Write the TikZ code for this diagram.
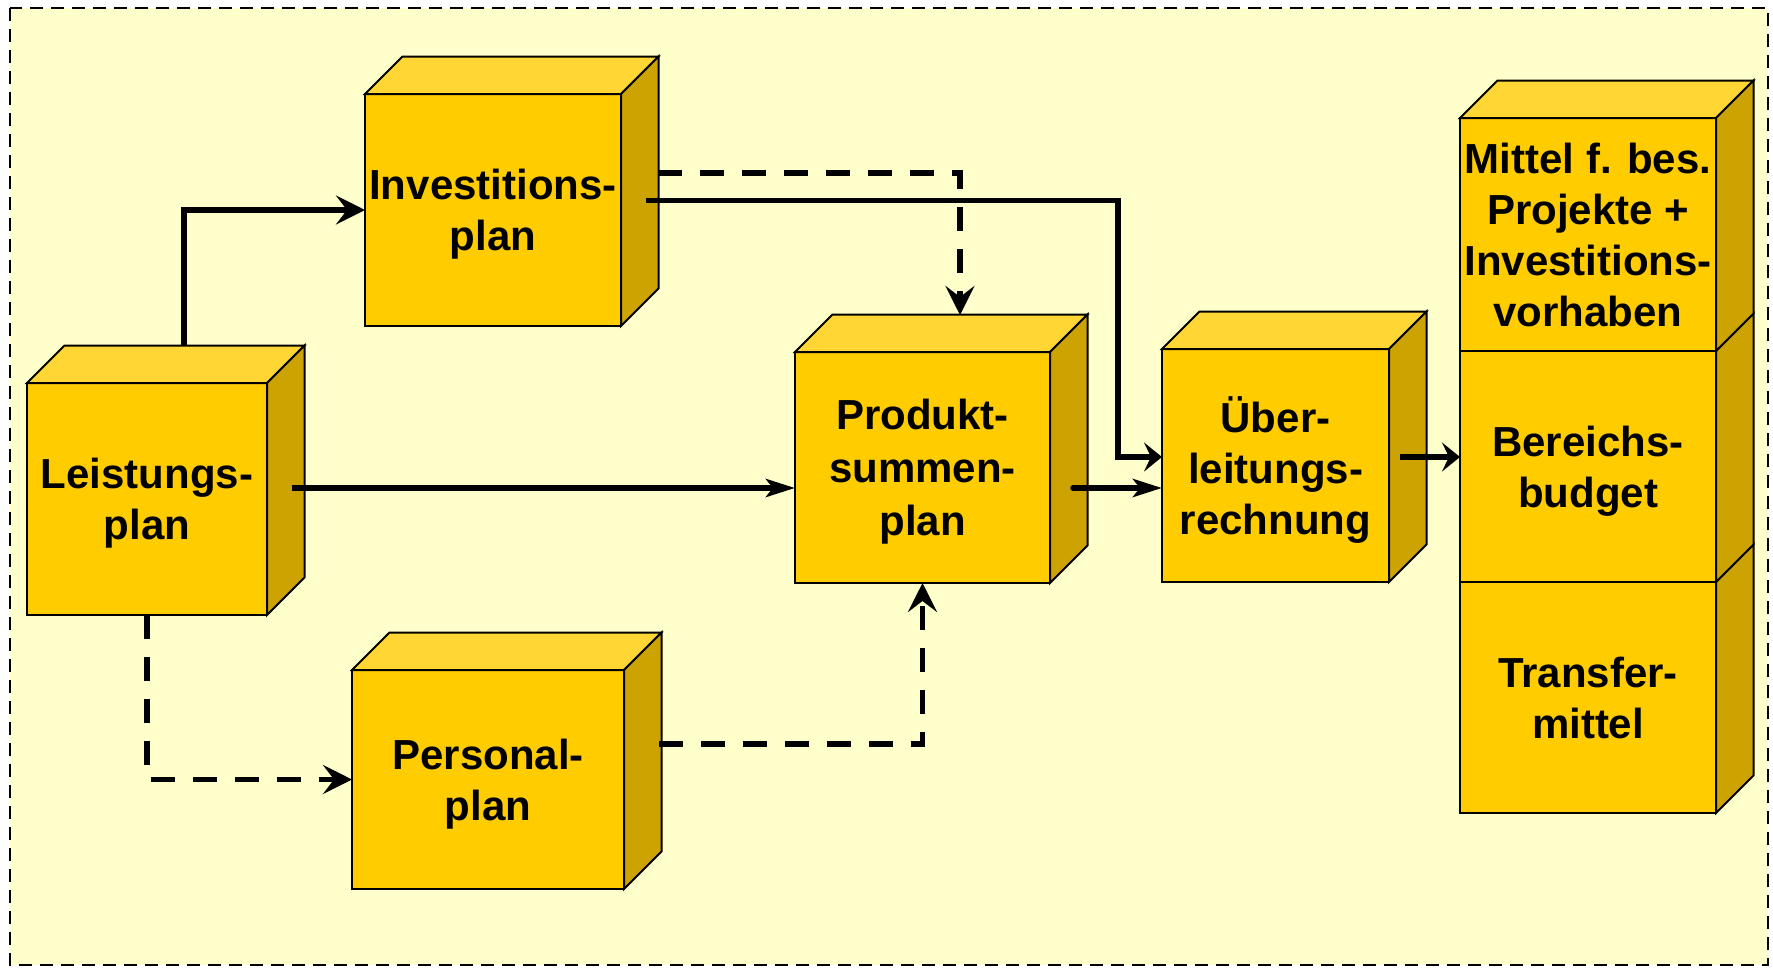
\documentclass[tikz,border=0pt]{standalone}
\usepackage{fontspec}
\setmainfont{Liberation Sans}
\usetikzlibrary{arrows.meta}
\definecolor{frontc}{HTML}{FFCC00}
\definecolor{topc}{HTML}{FFD633}
\definecolor{sidec}{HTML}{CCA300}
\definecolor{bgc}{HTML}{FFFFCC}
\tikzset{
  front/.style={draw=black, line width=1pt, fill=frontc, inner sep=0pt, outer sep=0pt,
    align=center, text depth=0pt, font=\fontsize{21}{25.5}\selectfont\bfseries},
  cubeline/.style={draw=black, line width=1pt, line join=miter},
  conn/.style={line width=2.8pt, black},
  dashconn/.style={dash pattern=on 12pt off 9pt},
  bigtip/.tip={Stealth[length=14.5pt,width=14.5pt,inset=5.5pt]},
  shorttip/.tip={Stealth[length=9pt,width=14.5pt,inset=3.5pt]},
  thintip/.tip={Stealth[length=14.5pt,width=9pt,inset=3.5pt]},
}
\newcommand\mycubetop[1]{\filldraw[cubeline,fill=topc] (#1.north west) -- ([shift={(37.5,-37.5)}]#1.north west) -- ([shift={(37.5,-37.5)}]#1.north east) -- (#1.north east) -- cycle;}
\newcommand\mycubeside[1]{\filldraw[cubeline,fill=sidec] (#1.north east) -- ([shift={(37.5,-37.5)}]#1.north east) -- ([shift={(37.5,-37.5)}]#1.south east) -- (#1.south east) -- cycle;}
\begin{document}
\begin{tikzpicture}[x=0.5pt,y=-0.5pt]
\useasboundingbox (0,0) rectangle (1773,969);
\fill[bgc] (10,8) rectangle (1768,965);
\draw[black, line width=1pt, dash pattern=on 6.5pt off 4pt] (10,8) rectangle (1768,965);

% boxes
\node[front, minimum width=128pt, minimum height=116pt] (inv) at (493,210) {Investitions-\\plan};
\mycubetop{inv}\mycubeside{inv}
\node[front, minimum width=120pt, minimum height=116pt] (leist) at (147,499) {Leistungs-\\plan};
\mycubetop{leist}\mycubeside{leist}
\node[front, minimum width=136pt, minimum height=109.5pt] (pers) at (488,779.5) {Personal-\\plan};
\mycubetop{pers}\mycubeside{pers}
\node[front, minimum width=127.5pt, minimum height=115.5pt, font=\fontsize{21}{26.5}\selectfont\bfseries] (prod) at (922.5,467.5) {Produkt-\\summen-\\plan};
\mycubetop{prod}\mycubeside{prod}
\node[front, minimum width=113.5pt, minimum height=116.5pt] (ueb) at (1275.5,465.5) {Über-\\leitungs-\\rechnung};
\mycubetop{ueb}\mycubeside{ueb}
\node[front, minimum width=128pt, minimum height=115.5pt] (tra) at (1588,697.5) {Transfer-\\mittel};
\mycubeside{tra}
\node[front, minimum width=128pt, minimum height=115.5pt] (ber) at (1588,466.5) {Bereichs-\\budget};
\mycubeside{ber}
\node[front, minimum width=128pt, minimum height=116.5pt] (mit) at (1588,234.5) {Mittel f. bes.\\Projekte +\\Investitions-\\vorhaben};
\mycubetop{mit}\mycubeside{mit}

% connectors
\coordinate (a1) at (184,346);
\draw[conn,-bigtip] (a1) |- (inv.west);
\coordinate (b1) at (658,173);
\coordinate (b2) at (960,315);
\draw[conn,dashconn,-bigtip] (b1) -| (b2);
\coordinate (c1) at (646,200.5);
\coordinate (c2) at (1118,457);
\draw[conn,-shorttip] (c1) -| (c2) -- (c2 -| ueb.west);
\coordinate (d1) at (291.5,488);
\draw[conn,-thintip] (d1) -- (d1 -| prod.west);
\draw[conn,dashconn,-bigtip] (leist.south) |- (pers.west);
\coordinate (f1) at (659,744);
\draw[conn,dashconn,-bigtip] (f1) -| (prod.south);
\coordinate (g1) at (1073,488);
\draw[conn,line cap=round,-thintip] (g1) -- (g1 -| ueb.west);
\coordinate (h1) at (1400,457);
\draw[conn,-shorttip] (h1) -- (h1 -| ber.west);
\end{tikzpicture}
\end{document}
